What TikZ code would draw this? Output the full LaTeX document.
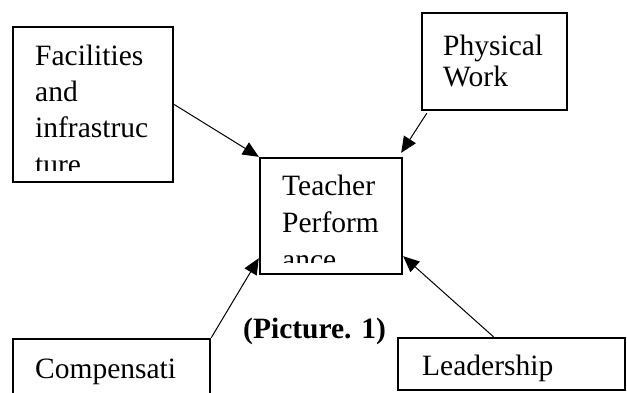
\documentclass[tikz,border=0pt]{standalone}
\usepackage{fontspec}
\setmainfont{Liberation Serif}
\usetikzlibrary{arrows.meta}
\begin{document}
\begin{tikzpicture}[x=1pt,y=-1pt,
  box/.style={draw=black,line width=2.4pt,inner sep=0pt,fill=white},
  txt/.style={inner sep=0pt,anchor=base west,font=\fontsize{29.5}{34}\selectfont},
  ttl/.style={inner sep=0pt,anchor=base west,font=\fontsize{29.5}{34}\selectfont\bfseries},
  arr/.style={line width=1pt,-{Triangle[length=16pt,width=14pt]}},
  ln/.style={line width=1pt}]
\useasboundingbox (0,0) rectangle (627,392);
% boxes
\node[box,minimum width=160pt,minimum height=155pt] (fac) at (93,104.5) {};
\node[box,minimum width=145pt,minimum height=97pt] (phys) at (494.5,61.5) {};
\node[box,minimum width=142pt,minimum height=116pt] (tp) at (331,216) {};
\node[box,minimum width=197pt,minimum height=70pt] (comp) at (111.5,374) {};
\node[box,minimum width=227pt,minimum height=52pt] (lead) at (511.5,364) {};
% texts
\begin{scope}
\clip (14,28) rectangle (172,170);
\node[txt] (fac1) at (35,65) {Facilities};
\node[txt] (fac2) at (35,101) {and};
\node[txt] (fac3) at (35,137) {infrastruc};
\node[txt] (fac4) at (35,174) {ture};
\end{scope}
\node[txt] (phys1) at (443,55) {Physical};
\node[txt] (phys2) at (443,86) {Work};
\begin{scope}
\clip (261,159) rectangle (401,262);
\node[txt] (tp1) at (282,195) {Teacher};
\node[txt] (tp2) at (282,232) {Perform};
\node[txt] (tp3) at (282,269) {ance};
\end{scope}
\node[txt] (comp1) at (35,378) {Compensati};
\node[txt] (lead1) at (422,375) {Leadership};
\node[ttl] (cap) at (243,338) {(Picture. 1)};
% connectors
\draw[arr] (fac.east) -- (tp.north west);
\draw[arr] ([xshift=6pt,yshift=-2pt]phys.south west) -- ([xshift=-2pt,yshift=4pt]tp.north east);
\draw[arr] (comp.north east) -- ([yshift=17pt]tp.south west);
\draw[arr] ([xshift=-18pt]lead.north) -- ([yshift=19pt]tp.south east);
\end{tikzpicture}
\end{document}
